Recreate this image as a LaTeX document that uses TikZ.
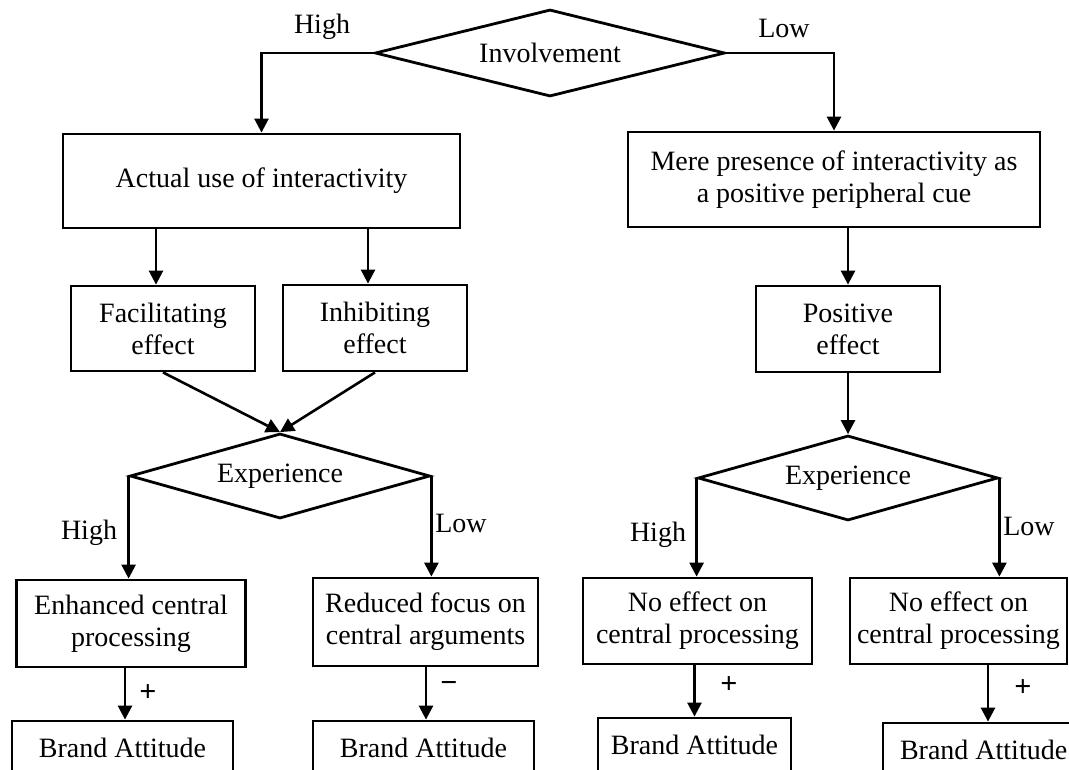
\documentclass[tikz,border=0pt]{standalone}
\usepackage{fontspec}
\setmainfont{Liberation Serif}
\usetikzlibrary{shapes.geometric}
\usetikzlibrary{arrows.meta}
\tikzset{
  box/.style={draw,rectangle,line width=2.8pt,inner sep=0pt,align=center,font=\fontsize{28}{32}\selectfont},
  dia/.style={draw,diamond,line width=2.8pt,inner sep=0pt,aspect=4,font=\fontsize{28}{32}\selectfont},
  lbl/.style={font=\fontsize{28}{32}\selectfont},
  sgn/.style={font=\fontsize{30}{32}\selectfont\bfseries},
  arr/.style={line width=2.6pt,-{Triangle[length=14pt,width=14pt]}},
}
\begin{document}
\begin{tikzpicture}[x=1pt,y=-1pt]
\useasboundingbox (0,0) rectangle (1069,770);
\clip (0,0) rectangle (1069,770);

% involvement split
\node[dia,minimum width=350pt,minimum height=87pt] (inv) at (550,53) {Involvement};
\node[lbl] (invhigh) at (322,27) {High};
\node[lbl] (invlow) at (784,28) {Low};

\node[box,minimum width=397pt,minimum height=94pt] (act) at (261.5,181) {Actual use of interactivity};
\node[box,minimum width=412pt,minimum height=95pt] (mere) at (834,179.5) {Mere presence of interactivity as\\a positive peripheral cue};
\draw[arr] (inv.west) -| (act.north);
\draw[arr] (inv.east) -| (mere.north);

% effects
\node[box,minimum width=184pt,minimum height=85pt] (fac) at (163,328.5) {Facilitating\\effect};
\node[box,minimum width=184pt,minimum height=86pt] (inh) at (375,328) {Inhibiting\\effect};
\node[box,minimum width=184pt,minimum height=86pt] (pos) at (848,329) {Positive\\effect};
\draw[arr] (act.south -| 156,0) -- (fac.north -| 156,0);
\draw[arr] (act.south -| 368,0) -- (inh.north -| 368,0);
\draw[arr] (mere.south -| pos.north) -- (pos.north);

% experience splits
\node[dia,minimum width=300pt,minimum height=85pt] (expl) at (280,476) {Experience};
\node[dia,minimum width=300pt,minimum height=85pt] (expr) at (848,478) {Experience};
\draw[arr] (fac.south) -- (expl.north);
\draw[arr] (inh.south) -- (expl.north);
\draw[arr] (pos.south) -- (expr.north);

\node[box,minimum width=229pt,minimum height=87pt] (enh) at (131,623.5) {Enhanced central\\processing};
\node[box,minimum width=225pt,minimum height=88pt] (red) at (425.5,622) {Reduced focus on\\central arguments};
\node[box,minimum width=229pt,minimum height=86pt] (nel) at (697.5,621) {No effect on\\central processing};
\node[box,minimum width=217pt,minimum height=86pt] (ner) at (958.5,621) {No effect on\\central processing};
\draw[arr] (expl.west) -- (expl.west |- enh.north);
\draw[arr] (expl.east) -- (expl.east |- red.north);
\draw[arr] (expr.west) -- (expr.west |- nel.north);
\draw[arr] (expr.east) -- (expr.east |- ner.north);
\node[lbl] (exlhigh) at (89,533) {High};
\node[lbl] (exllow) at (461,523) {Low};
\node[lbl] (exrhigh) at (658,535) {High};
\node[lbl] (exrlow) at (1029,526) {Low};

% brand attitude
\node[box,minimum width=221pt,minimum height=54pt] (bal) at (122.5,748) {Brand Attitude};
\node[box,minimum width=221pt,minimum height=54pt] (bam) at (423.5,748) {Brand Attitude};
\node[box,minimum width=193pt,minimum height=54pt] (bar) at (694.5,745) {Brand Attitude};
\node[box,minimum width=220pt,minimum height=54pt,text width=186pt,align=flush left] (bax) at (993,750) {Brand Attitude};
\draw[arr] (enh.south -| 125,0) -- (bal.north -| 125,0);
\draw[arr] (red.south -| 426,0) -- (bam.north -| 426,0);
\draw[arr] (nel.south -| bar.north) -- (bar.north);
\draw[arr] (ner.south -| 988,0) -- (bax.north -| 988,0);
\node[sgn] (sgn1) at (148,693) {+};
\node[sgn] (sgn2) at (449,687) {−};
\node[sgn] (sgn3) at (729,685) {+};
\node[sgn] (sgn4) at (1023,688) {+};

\end{tikzpicture}
\end{document}
